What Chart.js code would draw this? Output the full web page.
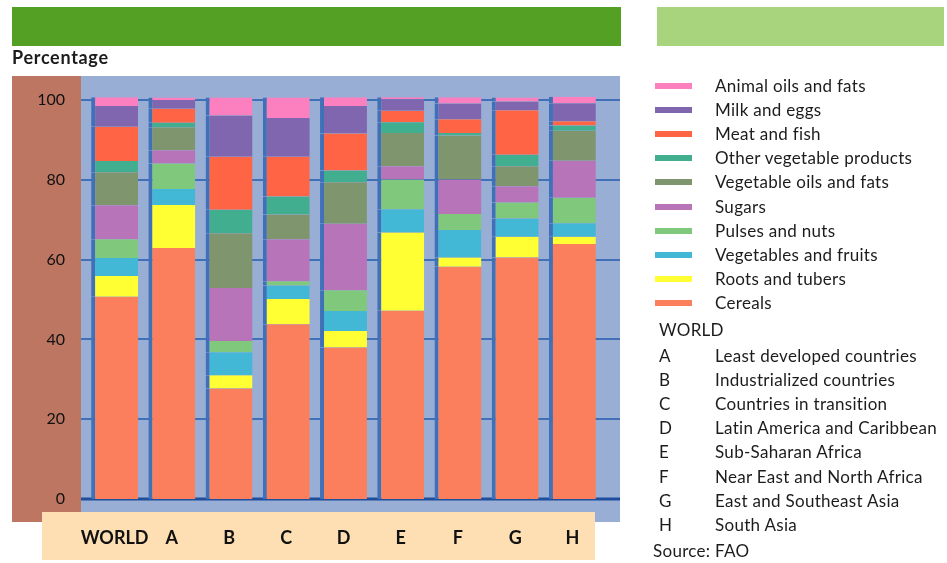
<!DOCTYPE html>
<html>
<head>
<meta charset="utf-8">
<script src="https://cdn.jsdelivr.net/npm/chart.js@4.4.1/dist/chart.umd.min.js"></script>
<style>
  html, body { margin: 0; padding: 0; background: #ffffff; }
  #wrap { position: relative; width: 947px; height: 563px; overflow: hidden; font-family: Lato, "Open Sans", sans-serif; color: #1c1c1c; }
  #chart { position: absolute; left: 0; top: 0; }
  .ylabel { position: absolute; left: 12px; top: 46px; font-weight: bold; font-size: 18px; letter-spacing: 0.7px; }
  .legend-row { position: absolute; left: 655px; height: 20px; font-size: 17px; line-height: 20px; letter-spacing: 0.3px; }
  .swatch { position: absolute; left: 0; top: 7px; width: 37px; height: 6px; }
  .legend-row span.txt { position: absolute; left: 60px; white-space: nowrap; }
  .region-row { position: absolute; left: 659px; font-size: 17px; line-height: 20px; white-space: nowrap; letter-spacing: 0.3px; }
  .region-row .code { position: absolute; left: 0; }
  .region-row .name { position: absolute; left: 56px; }
</style>
</head>
<body>
<div id="wrap">
  <canvas id="chart" width="947" height="563"></canvas>
  <div class="ylabel">Percentage</div>
  <div id="legend"></div>
  <div id="regions"></div>
</div>
<script>
// Share of dietary energy supply by food group (%), FAO
const categories = ['WORLD', 'A', 'B', 'C', 'D', 'E', 'F', 'G', 'H'];

const cereals     = [50.7, 62.9, 27.7, 43.8, 38.0, 47.2, 58.2, 60.5, 63.9];
const rootsTubers = [5.2, 10.8, 3.3, 6.3, 4.1, 19.6, 2.3, 5.2, 1.8];
const vegFruits   = [4.5, 4.0, 5.8, 3.4, 5.0, 5.8, 6.9, 4.6, 3.4];
const pulsesNuts  = [4.7, 6.4, 2.8, 1.1, 5.2, 7.5, 4.0, 4.0, 6.4];
const sugars      = [8.5, 3.3, 13.3, 10.5, 16.7, 3.3, 8.7, 4.1, 9.3];
const vegOils     = [8.3, 5.8, 13.7, 6.2, 10.4, 8.3, 11.0, 5.0, 7.5];
const otherVeg    = [2.8, 1.1, 5.9, 4.5, 2.9, 2.7, 0.6, 2.9, 1.3];
const meatFish    = [8.6, 3.5, 13.3, 10.0, 9.3, 2.9, 3.5, 11.1, 1.1];
const milkEggs    = [5.2, 2.2, 10.3, 9.7, 6.9, 2.8, 3.9, 2.2, 4.5];
const animalOils  = [2.2, 0.6, 4.5, 5.1, 2.2, 0.6, 1.6, 1.0, 1.6];

const yTicks = [0, 20, 40, 60, 80, 100];

const regionCodes = ['A', 'B', 'C', 'D', 'E', 'F', 'G', 'H'];
const regionNames = [
  'Least developed countries',
  'Industrialized countries',
  'Countries in transition',
  'Latin America and Caribbean',
  'Sub-Saharan Africa',
  'Near East and North Africa',
  'East and Southeast Asia',
  'South Asia'
];

const series = [
  { label: 'Cereals',                  data: cereals,     color: '#fb7f5d' },
  { label: 'Roots and tubers',         data: rootsTubers, color: '#ffff33' },
  { label: 'Vegetables and fruits',    data: vegFruits,   color: '#42b8d6' },
  { label: 'Pulses and nuts',          data: pulsesNuts,  color: '#80c87c' },
  { label: 'Sugars',                   data: sugars,      color: '#b874b8' },
  { label: 'Vegetable oils and fats',  data: vegOils,     color: '#7f956d' },
  { label: 'Other vegetable products', data: otherVeg,    color: '#41ae8f' },
  { label: 'Meat and fish',            data: meatFish,    color: '#ff6545' },
  { label: 'Milk and eggs',            data: milkEggs,    color: '#7f66ae' },
  { label: 'Animal oils and fats',     data: animalOils,  color: '#fc80c0' }
];

const PLOT_BLUE = '#99aed5';
const GRID_BLUE = '#4070b8';

// Panels behind the plot: header bands, brown axis strip, blue wall, peach label box
const backdrop = {
  id: 'backdrop',
  beforeDraw(chart) {
    const ctx = chart.ctx;
    ctx.save();
    ctx.fillStyle = '#54a024';
    ctx.fillRect(12, 7, 609, 39);
    ctx.fillStyle = '#a7d47c';
    ctx.fillRect(657, 7, 287, 39);
    ctx.fillStyle = PLOT_BLUE;
    ctx.fillRect(81, 76, 539, 446);
    ctx.fillStyle = '#bd7662';
    ctx.fillRect(12, 76, 69, 446);
    ctx.fillStyle = '#fddfb3';
    ctx.fillRect(42, 512, 553, 48);
    ctx.restore();
  },
  beforeDatasetsDraw(chart) {
    const ctx = chart.ctx;
    const y = chart.scales.y;
    ctx.save();
    y.ticks.forEach(t => {
      const py = Math.round(y.getPixelForValue(t.value));
      ctx.beginPath();
      ctx.strokeStyle = t.value === 0 ? '#1e4f9e' : GRID_BLUE;
      ctx.lineWidth = t.value === 0 ? 3 : 2;
      ctx.moveTo(81, py);
      ctx.lineTo(620, py);
      ctx.stroke();
    });
    ctx.restore();
  }
};

new Chart(document.getElementById('chart'), {
  type: 'bar',
  data: {
    labels: categories,
    datasets: series.map(s => ({
      label: s.label,
      data: s.data,
      backgroundColor: s.color,
      borderColor: GRID_BLUE,
      borderWidth: { left: 4, right: 0, top: 0, bottom: 0 },
      borderSkipped: false,
      barPercentage: 0.82,
      categoryPercentage: 1.0,
      clip: false
    }))
  },
  options: {
    responsive: false,
    animation: false,
    devicePixelRatio: 1,
    layout: { padding: { left: 12, right: 346, top: 100, bottom: 0 } },
    plugins: {
      legend: { display: false },
      tooltip: { enabled: false }
    },
    scales: {
      x: {
        stacked: true,
        grid: { display: false, drawTicks: false },
        border: { display: false },
        ticks: {
          color: '#111111',
          font: { family: 'Lato', size: 18, weight: 'bold' },
          padding: 28,
          maxRotation: 0,
          autoSkip: false
        },
        afterFit(s) { s.height = 64; }
      },
      y: {
        stacked: true,
        min: 0,
        max: 100,
        grid: { display: false, drawTicks: false },
        border: { display: false },
        afterBuildTicks(s) { s.ticks = yTicks.map(v => ({ value: v })); },
        ticks: {
          color: '#111111',
          font: { family: 'Lato', size: 16 },
          padding: 21
        },
        afterFit(s) { s.width = 74; }
      }
    }
  },
  plugins: [backdrop]
});

// Legend, listed from top of stack to bottom
const legend = document.getElementById('legend');
series.slice().reverse().forEach((s, i) => {
  const row = document.createElement('div');
  row.className = 'legend-row';
  row.style.top = (76 + i * 24.1) + 'px';
  row.innerHTML = '<div class="swatch" style="background:' + s.color + '"></div><span class="txt">' + s.label + '</span>';
  legend.appendChild(row);
});

// Region key
const regions = document.getElementById('regions');
const worldRow = document.createElement('div');
worldRow.className = 'region-row';
worldRow.style.top = '320px';
worldRow.textContent = 'WORLD';
regions.appendChild(worldRow);
regionCodes.forEach((code, i) => {
  const row = document.createElement('div');
  row.className = 'region-row';
  row.style.top = (346 + i * 24.1) + 'px';
  row.innerHTML = '<span class="code">' + code + '</span><span class="name">' + regionNames[i] + '</span>';
  regions.appendChild(row);
});
const src = document.createElement('div');
src.className = 'region-row';
src.style.left = '653px';
src.style.top = '541px';
src.textContent = 'Source: FAO';
regions.appendChild(src);
</script>
</body>
</html>
